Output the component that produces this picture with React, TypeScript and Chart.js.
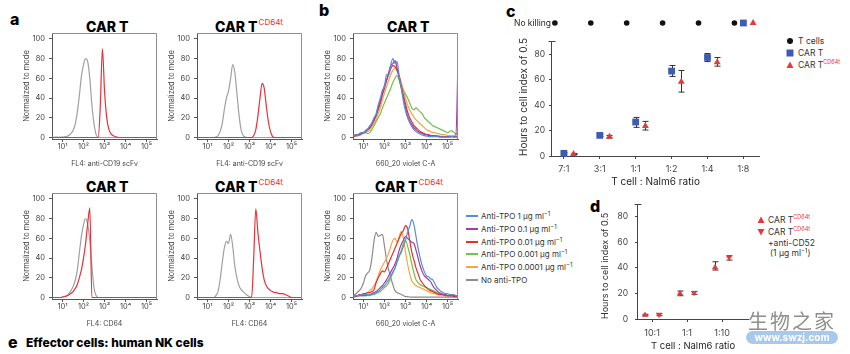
import React, { useEffect, useRef } from 'react';
import { Chart, registerables } from 'chart.js';

Chart.register(...registerables);

// ================= DATA =================
// Histogram x grid, in log10 units of fluorescence intensity
const HIST_LOG_X = [0.5, 0.6, 0.7, 0.8, 0.9, 1.0, 1.1, 1.2, 1.3, 1.4, 1.5, 1.6, 1.7, 1.8, 1.9, 2.0, 2.1, 2.2, 2.3, 2.4, 2.5, 2.6, 2.7, 2.8, 2.9, 3.0, 3.1, 3.2, 3.3, 3.4, 3.5, 3.6, 3.7, 3.8, 3.9, 4.0, 4.1, 4.2, 4.3, 4.4, 4.5, 4.6, 4.7, 4.8, 4.9, 5.0, 5.1, 5.2, 5.3, 5.4, 5.5];
const HIST_X_TICKS = [1, 2, 3, 4, 5];
const HIST_X_LABELS = ['10¹', '10²', '10³', '10⁴', '10⁵'];
const HIST_Y_TICKS = [0, 20, 40, 60, 80, 100];

// a: CAR T, anti-CD19 scFv
const A1_CTRL = [0.5, 0.3, 0.5, 0.3, 0.4, 0.5, 0.8, 1.2, 2, 4, 7, 13, 25, 42, 62, 74, 80, 77, 60, 33, 14, 3, 0.5, 0, 0, 0, 0, 0, 0, 0, 0, 0, 0, 0, 0, 0, 0, 0, 0, 0, 0, 0, 0, 0, 0, 0, 0, 0, 0, 0, 0];
const A1_STAIN = [0, 0, 0, 0, 0, 0, 0, 0, 0, 0, 0, 0, 0, 0, 0, 0, 0, 0, 0, 0, 0, 0, 0, 32, 90, 48, 21, 9, 4, 2, 1, 0.5, 0, 0, 0, 0, 0, 0, 0, 0, 0, 0, 0, 0, 0, 0, 0, 0, 0, 0, 0];
// a: CAR T CD64t, anti-CD19 scFv
const A2_CTRL = [0, 0, 0, 0, 0, 0, 0, 0, 0, 0.5, 2, 6, 14, 28, 40, 47, 60, 74, 66, 45, 23, 8, 2, 0.5, 0, 0, 0, 0, 0, 0, 0, 0, 0, 0, 0, 0, 0, 0, 0, 0, 0, 0, 0, 0, 0, 0, 0, 0, 0, 0, 0];
const A2_STAIN = [0, 0, 0, 0, 0, 0, 0, 0, 0, 0, 0, 0, 0, 0, 0, 0, 0, 0, 0, 0, 0, 0, 0, 0, 0, 0, 0, 2, 8, 22, 40, 55, 50, 32, 16, 6, 1, 0, 0, 0, 0, 0, 0, 0, 0, 0, 0, 0, 0, 0, 0];
// a: CAR T, CD64
const A3_CTRL = [0, 0, 0, 0, 0, 0.5, 1, 2, 4, 7, 11, 17, 27, 45, 62, 74, 80, 74, 58, 32, 10, 2, 0, 0, 0, 0, 0, 0, 0, 0, 0, 0, 0, 0, 0, 0, 0, 0, 0, 0, 0, 0, 0, 0, 0, 0, 0, 0, 0, 0, 0];
const A3_STAIN = [0, 0, 0, 0, 0, 0.5, 1, 1.5, 2.5, 4, 6, 9, 13, 20, 28, 40, 55, 75, 91, 0, 0, 0, 0, 0, 0, 0, 0, 0, 0, 0, 0, 0, 0, 0, 0, 0, 0, 0, 0, 0, 0, 0, 0, 0, 0, 0, 0, 0, 0, 0, 0];
// a: CAR T CD64t, CD64
const A4_CTRL = [0, 0, 0, 0, 0, 0, 0, 0, 0, 2, 6, 18, 35, 50, 57, 55, 64, 52, 32, 20, 12, 8, 6, 4, 2, 1, 0, 0, 0, 0, 0, 0, 0, 0, 0, 0, 0, 0, 0, 0, 0, 0, 0, 0, 0, 0, 0, 0, 0, 0, 0];
const A4_STAIN = [0, 0, 0, 0, 0, 0, 0, 0, 0, 0, 0, 0, 0, 0, 0, 0, 0, 0, 0, 0, 0, 0, 0, 0, 0, 0, 0, 40, 90, 66, 47, 30, 18, 12, 9, 7, 6, 5, 5, 4, 4, 4, 3, 2, 1, 0, 0, 0, 0, 0, 0];

// b: CAR T, 660_20 violet C-A, per anti-TPO dose
const BT_1 = [2, 3, 2, 4, 5, 5, 7, 9, 12, 15, 20, 24, 33, 40, 48, 52, 64, 63, 74, 80, 75, 77, 62, 50, 37, 27, 20, 15, 11, 8, 6, 4.5, 3.5, 2.5, 2, 1.5, 1, 1, 1, 1, 1, 0.5, 0.5, 0.5, 0.5, 0.5, 0.5, 1, 0.5, 0.5, 0.5];
const BT_01 = [1, 2, 3, 3, 4, 5, 6, 8, 10, 14, 18, 23, 31, 37, 45, 53, 58, 66, 73, 75, 78, 70, 60, 50, 40, 30, 22, 17, 13, 10, 8, 6, 5, 4, 3, 3, 2, 2, 2, 1.5, 1.5, 1, 1, 1, 1, 1, 1, 1, 1, 1, 78];
const BT_001 = [1, 2, 2, 3, 4, 5, 7, 8, 10, 13, 17, 22, 28, 35, 43, 50, 58, 64, 70, 73, 72, 68, 62, 52, 43, 34, 26, 20, 16, 12, 10, 8, 6, 5, 4, 3, 3, 2, 2, 2, 1.5, 1.5, 1, 1, 1, 1, 1, 1, 1, 1, 1];
const BT_0001 = [1, 2, 2, 3, 4, 5, 5, 4, 5, 8, 12, 16, 20, 24, 30, 35, 40, 45, 50, 56, 60, 63, 58, 52, 48, 44, 40, 35, 30, 28, 30, 28, 26, 24, 20, 18, 16, 14, 12, 11, 10, 9, 8, 7, 6, 5, 6, 7, 5, 4, 4];
const BT_00001 = [1, 1, 2, 2, 3, 4, 5, 6, 8, 11, 14, 18, 24, 30, 38, 45, 52, 58, 64, 68, 70, 68, 63, 56, 48, 40, 33, 28, 24, 21, 18, 16, 14, 12, 10, 8, 7, 6, 5, 5, 4, 4, 3, 3, 3, 2, 2, 2, 2, 3, 2];

// b: CAR T CD64t
const BB_1 = [1, 2, 2, 2, 3, 3, 3, 3, 3, 3, 4, 5, 6, 8, 10, 12, 15, 18, 22, 26, 30, 36, 42, 46, 52, 58, 66, 72, 79, 74, 62, 50, 40, 32, 26, 22, 21, 19, 18, 14, 10, 8, 6, 5, 4, 4, 3, 3, 3, 2, 2];
const BB_01 = [1, 1, 2, 2, 2, 2, 2, 3, 3, 4, 5, 6, 8, 10, 12, 15, 18, 22, 26, 30, 34, 40, 48, 54, 58, 62, 60, 58, 56, 55, 48, 40, 32, 26, 22, 20, 18, 16, 12, 9, 7, 5, 4, 3, 3, 2, 2, 2, 2, 2, 2];
const BB_001 = [1, 2, 2, 3, 3, 4, 4, 5, 5, 6, 8, 15, 20, 24, 27, 26, 30, 35, 40, 45, 50, 55, 60, 65, 68, 73, 70, 58, 46, 38, 30, 24, 18, 15, 12, 10, 8, 7, 6, 5, 4, 3, 3, 3, 2, 2, 2, 2, 1, 1, 1];
const BB_0001 = [1, 1, 1, 2, 2, 2, 2, 2, 2, 3, 3, 4, 5, 6, 8, 10, 12, 15, 20, 25, 30, 36, 42, 48, 55, 58, 52, 44, 34, 25, 18, 15, 13, 12, 11, 10, 9, 8, 7, 6, 5, 4, 4, 3, 3, 2, 2, 2, 2, 2, 2];
const BB_00001 = [1, 1, 2, 2, 3, 3, 4, 5, 7, 9, 12, 16, 22, 28, 32, 36, 40, 45, 52, 58, 60, 56, 62, 67, 60, 46, 34, 24, 17, 14, 12, 11, 10, 9, 8, 7, 6, 5, 4, 4, 3, 3, 3, 2, 2, 2, 2, 2, 2, 2, 1];
const BB_NONE = [2, 3, 5, 7, 10, 15, 22, 25, 28, 40, 57, 66, 62, 63, 64, 52, 38, 28, 20, 13, 7, 5, 4, 3, 2, 1, 1, 0.5, 0.5, 0.5, 0.5, 0.5, 0.5, 0.5, 0.5, 0.5, 0.5, 0.5, 0.5, 0.5, 0.5, 0.5, 0.5, 0.5, 0.5, 0.5, 0.5, 0.5, 0.5, 0.5, 0.5];

const TPO_DOSES = ['1', '0.1', '0.01', '0.001', '0.0001'];

// c: hours to cell index 0.5
const C_CATS = ['7:1', '3:1', '1:1', '1:2', '1:4', '1:8'];
const C_Y_TICKS = [0, 20, 40, 60, 80];
const C_CART = [2.1, 16.2, 26.7, 66.7, 77.4, null];
const C_CART_LOW = [1.4, 15.4, 22.5, 62.5, 74.2, null];
const C_CART_HIGH = [2.8, 17.0, 30.3, 71.1, 80.5, null];
const C_CD64T = [1.6, 15.2, 23.5, 58.3, 73.7, null];
const C_CD64T_LOW = [1.2, 14.1, 20.4, 50.2, 70.6, null];
const C_CD64T_HIGH = [2.0, 16.2, 27.2, 67.2, 77.4, null];
const C_TCELL_NO_KILL = ['7:1', '3:1', '1:1', '1:2', '1:4', '1:8'];
const C_CART_NO_KILL = ['1:8'];
const C_CD64T_NO_KILL = ['1:8'];

// d
const D_CATS = ['10:1', '1:1', '1:10'];
const D_Y_TICKS = [0, 20, 40, 60, 80];
const D_CD64T = [3.1, 20.0, 40.4];
const D_CD64T_LOW = [2.5, 18.2, 38.3];
const D_CD64T_HIGH = [3.7, 21.9, 44.8];
const D_CD52 = [3.4, 20.6, 48.2];
const D_CD52_LOW = [2.6, 19.3, 46.1];
const D_CD52_HIGH = [4.2, 21.6, 49.5];

// ================= STYLE =================
const FONT = 'Inter, "DejaVu Sans", sans-serif';
const CJK = '"Noto Sans CJK SC", sans-serif';
const INK = '#1e1e1e';
const TICK_TEXT = '#444';
const AXIS = '#555';
const RED = '#e4333c';
const CTRL_GRAY = '#a0a0a0';
const BLUE_SQ = '#3f5cb3';
const RED_TRI = '#e23b3b';
const TPO_COLORS = ['#5b8bd6', '#9c3fa6', '#e5302c', '#73c24e', '#f3a646', '#8c8c8c'];

const AREA_W = 105;
const AREA_H = 106;
const HIST_PAD_TOP = 10;
const NO_KILL_Y = 104.5;
const C_OFFSETS = { tcell: -0.25, cart: 0, cd64t: 0.27 };
const D_OFFSETS = { cd64t: -0.2, cd52: 0.2 };

// ================= PLUGINS =================
const framePlugin = {
  id: 'frame',
  afterDraw(chart: any) {
    const { ctx, chartArea: a } = chart;
    ctx.save();
    ctx.strokeStyle = '#8d8d8d';
    ctx.lineWidth = 1;
    ctx.beginPath();
    ctx.moveTo(a.left, a.top + 0.5);
    ctx.lineTo(a.right - 0.5, a.top + 0.5);
    ctx.lineTo(a.right - 0.5, a.bottom);
    ctx.stroke();
    ctx.restore();
  },
};

const errorBarPlugin = {
  id: 'errorBars',
  beforeDatasetsDraw(chart: any) {
    const { ctx } = chart;
    const xs = chart.scales.x;
    const ys = chart.scales.y;
    ctx.save();
    ctx.strokeStyle = '#333';
    ctx.lineWidth = 1;
    chart.data.datasets.forEach((ds: any) => {
      if (!ds.errLow) return;
      ds.data.forEach((pt: any, i: number) => {
        const lo = ds.errLow[i];
        const hi = ds.errHigh[i];
        if (lo == null || hi == null) return;
        const x = Math.round(xs.getPixelForValue(pt.x)) + 0.5;
        const yl = ys.getPixelForValue(lo);
        const yh = ys.getPixelForValue(hi);
        ctx.beginPath();
        ctx.moveTo(x, yl);
        ctx.lineTo(x, yh);
        ctx.moveTo(x - 3, yl);
        ctx.lineTo(x + 3, yl);
        ctx.moveTo(x - 3, yh);
        ctx.lineTo(x + 3, yh);
        ctx.stroke();
      });
    });
    ctx.restore();
  },
};

function makeYAxisLine(topValue: number) {
  return {
    id: 'yAxisLine',
    afterDraw(chart: any) {
      const { ctx } = chart;
      const ys = chart.scales.y;
      const x = Math.round(chart.chartArea.left) - 0.5;
      const y0 = ys.getPixelForValue(0);
      const yt = Math.round(ys.getPixelForValue(topValue)) + 0.5;
      ctx.save();
      ctx.strokeStyle = '#444';
      ctx.lineWidth = 1;
      ctx.beginPath();
      ctx.moveTo(x, y0);
      ctx.lineTo(x, yt);
      ctx.moveTo(x - 3, yt);
      ctx.lineTo(x + 4, yt);
      ctx.stroke();
      ctx.restore();
    },
  };
}

const noKillLabelPlugin = {
  id: 'noKillLabel',
  afterDraw(chart: any) {
    const { ctx } = chart;
    const y = chart.scales.y.getPixelForValue(NO_KILL_Y);
    ctx.save();
    ctx.font = `8.5px ${FONT}`;
    ctx.fillStyle = INK;
    ctx.textAlign = 'right';
    ctx.textBaseline = 'middle';
    ctx.fillText('No killing', chart.chartArea.left - 1, y);
    ctx.restore();
  },
};

// ================= CONFIG BUILDERS =================
function histogramConfig(series: { values: number[]; color: string }[], xTitle: string): any {
  const tickFont = { family: FONT, size: 7.5 };
  return {
    type: 'line',
    data: {
      datasets: series.map((s) => ({
        data: HIST_LOG_X.map((x, i) => ({ x, y: s.values[i] })),
        borderColor: s.color,
        borderWidth: 1.2,
        pointRadius: 0,
        cubicInterpolationMode: 'monotone',
        fill: false,
      })),
    },
    options: {
      responsive: false,
      animation: false,
      events: [],
      layout: { padding: { top: HIST_PAD_TOP, right: 4, bottom: 0, left: 0 } },
      plugins: { legend: { display: false }, tooltip: { enabled: false } },
      scales: {
        x: {
          type: 'linear',
          min: 0.5,
          max: 5.5,
          afterBuildTicks: (s: any) => {
            s.ticks = HIST_X_TICKS.map((v) => ({ value: v }));
          },
          afterFit: (s: any) => {
            s.height = 29;
          },
          ticks: {
            callback: (_v: any, i: number) => HIST_X_LABELS[i],
            font: tickFont,
            color: TICK_TEXT,
            padding: 0,
            maxRotation: 0,
            autoSkip: false,
          },
          grid: { drawOnChartArea: false, tickLength: 3, color: AXIS },
          border: { color: AXIS },
          title: { display: true, text: xTitle, font: { family: FONT, size: 7 }, color: TICK_TEXT, padding: 0 },
        },
        y: {
          type: 'linear',
          min: -1.5,
          max: 106,
          afterBuildTicks: (s: any) => {
            s.ticks = HIST_Y_TICKS.map((v) => ({ value: v }));
          },
          afterFit: (s: any) => {
            s.width = 30;
          },
          ticks: { font: tickFont, color: TICK_TEXT, padding: 4 },
          grid: { drawOnChartArea: false, tickLength: 3, color: AXIS },
          border: { color: AXIS },
          title: { display: true, text: 'Normalized to mode', font: { family: FONT, size: 7.5 }, color: TICK_TEXT, padding: 0 },
        },
      },
    },
    plugins: [framePlugin],
  };
}

function pointsFor(cats: string[], values: (number | null)[], low: (number | null)[], high: (number | null)[], offset: number, noKill: string[]) {
  const data: { x: number; y: number }[] = [];
  const errLow: (number | null)[] = [];
  const errHigh: (number | null)[] = [];
  cats.forEach((_c, i) => {
    const v = values[i];
    if (v != null) {
      data.push({ x: i + offset, y: v });
      errLow.push(low[i]);
      errHigh.push(high[i]);
    }
  });
  noKill.forEach((c) => {
    data.push({ x: cats.indexOf(c) + offset, y: NO_KILL_Y });
    errLow.push(null);
    errHigh.push(null);
  });
  return { data, errLow, errHigh };
}

function catScales(cats: string[], yTicks: number[], xMin: number, xMax: number, yMax: number, opts: any) {
  return {
    x: {
      type: 'linear',
      min: xMin,
      max: xMax,
      afterBuildTicks: (s: any) => {
        s.ticks = cats.map((_c, i) => ({ value: i }));
      },
      afterFit: (s: any) => {
        s.height = opts.xHeight;
      },
      ticks: {
        callback: (_v: any, i: number) => cats[i],
        font: { family: FONT, size: 9 },
        color: TICK_TEXT,
        padding: opts.xPad,
        maxRotation: 0,
        autoSkip: false,
      },
      grid: { drawOnChartArea: false, tickLength: 3, color: '#444' },
      border: { color: '#444' },
      title: { display: true, text: 'T cell : Nalm6 ratio', font: { family: FONT, size: opts.xTitleSize }, color: INK, padding: 0 },
    },
    y: {
      type: 'linear',
      min: 0,
      max: yMax,
      afterBuildTicks: (s: any) => {
        s.ticks = yTicks.map((v) => ({ value: v }));
      },
      afterFit: (s: any) => {
        s.width = opts.yWidth;
      },
      ticks: { font: { family: FONT, size: 8.5 }, color: TICK_TEXT, padding: opts.yPad },
      grid: { drawOnChartArea: false, tickLength: 3, color: '#444' },
      border: { display: false },
      title: {
        display: true,
        text: 'Hours to cell index of 0.5',
        align: 'start',
        font: { family: FONT, size: opts.yTitleSize },
        color: '#333',
        padding: opts.yTitlePad,
      },
    },
  };
}

function panelCConfig(): any {
  const tcell = pointsFor(C_CATS, C_CATS.map(() => null), [], [], C_OFFSETS.tcell, C_TCELL_NO_KILL);
  const cart = pointsFor(C_CATS, C_CART, C_CART_LOW, C_CART_HIGH, C_OFFSETS.cart, C_CART_NO_KILL);
  const cd64 = pointsFor(C_CATS, C_CD64T, C_CD64T_LOW, C_CD64T_HIGH, C_OFFSETS.cd64t, C_CD64T_NO_KILL);
  return {
    type: 'scatter',
    data: {
      datasets: [
        { label: 'CAR T CD64t', data: cd64.data, errLow: cd64.errLow, errHigh: cd64.errHigh, pointStyle: 'triangle', pointRadius: 4, backgroundColor: RED_TRI, borderColor: RED_TRI, borderWidth: 0, clip: false },
        { label: 'CAR T', data: cart.data, errLow: cart.errLow, errHigh: cart.errHigh, pointStyle: 'rect', pointRadius: 4.8, backgroundColor: BLUE_SQ, borderColor: BLUE_SQ, borderWidth: 0, clip: false },
        { label: 'T cells', data: tcell.data, pointStyle: 'circle', pointRadius: 2.8, backgroundColor: '#111', borderColor: '#111', borderWidth: 0, clip: false },
      ],
    },
    options: {
      responsive: false,
      animation: false,
      events: [],
      layout: { padding: { top: 10, right: 4, bottom: 0, left: 0 } },
      plugins: { legend: { display: false }, tooltip: { enabled: false } },
      scales: catScales(C_CATS, C_Y_TICKS, -0.33, 5.44, 110, { xHeight: 32, xPad: 5, xTitleSize: 10, yWidth: 52, yPad: 4, yTitleSize: 10, yTitlePad: 18 }),
    },
    plugins: [errorBarPlugin, makeYAxisLine(90), noKillLabelPlugin],
  };
}

function panelDConfig(): any {
  const a = pointsFor(D_CATS, D_CD64T, D_CD64T_LOW, D_CD64T_HIGH, D_OFFSETS.cd64t, []);
  const b = pointsFor(D_CATS, D_CD52, D_CD52_LOW, D_CD52_HIGH, D_OFFSETS.cd52, []);
  return {
    type: 'scatter',
    data: {
      datasets: [
        { label: 'CAR T CD64t', data: a.data, errLow: a.errLow, errHigh: a.errHigh, pointStyle: 'triangle', pointRadius: 3.6, backgroundColor: RED_TRI, borderColor: RED_TRI, borderWidth: 0, clip: false },
        { label: 'CAR T CD64t + anti-CD52', data: b.data, errLow: b.errLow, errHigh: b.errHigh, pointStyle: 'triangle', pointRotation: 180, pointRadius: 3.6, backgroundColor: RED_TRI, borderColor: RED_TRI, borderWidth: 0, clip: false },
      ],
    },
    options: {
      responsive: false,
      animation: false,
      events: [],
      layout: { padding: { top: 13, right: 4, bottom: 0, left: 0 } },
      plugins: { legend: { display: false }, tooltip: { enabled: false } },
      scales: catScales(D_CATS, D_Y_TICKS, -0.4, 2.74, 90, { xHeight: 33, xPad: 6, xTitleSize: 9.5, yWidth: 40, yPad: 7, yTitleSize: 9, yTitlePad: 2 }),
    },
    plugins: [errorBarPlugin, makeYAxisLine(90)],
  };
}

// ================= COMPONENTS =================
function ChartCanvas({ left, top, width, height, build }: { left: number; top: number; width: number; height: number; build: () => any }) {
  const ref = useRef<HTMLCanvasElement | null>(null);
  useEffect(() => {
    const chart = new Chart(ref.current as HTMLCanvasElement, build());
    return () => chart.destroy();
  }, []);
  return <canvas ref={ref} width={width} height={height} style={{ position: 'absolute', left, top, width, height }} />;
}

function Histogram({ areaLeft, areaTop, series, xTitle }: { areaLeft: number; areaTop: number; series: { values: number[]; color: string }[]; xTitle: string }) {
  const w = 30 + AREA_W + 4;
  const h = HIST_PAD_TOP + AREA_H + 29;
  return <ChartCanvas left={areaLeft - 30} top={areaTop - HIST_PAD_TOP} width={w} height={h} build={() => histogramConfig(series, xTitle)} />;
}

function PanelTitle({ left, top, sup }: { left: number; top: number; sup?: boolean }) {
  return (
    <div style={{ position: 'absolute', left, top, font: `800 14px ${FONT}`, lineHeight: '14px', whiteSpace: 'nowrap', color: '#000' }}>
      CAR T
      {sup ? <span style={{ position: 'relative', top: -7, fontSize: 8, fontWeight: 400, color: RED, marginLeft: 1 }}>CD64t</span> : null}
    </div>
  );
}

function Letter({ left, top, ch }: { left: number; top: number; ch: string }) {
  return <div style={{ position: 'absolute', left, top, font: `800 16px ${FONT}`, lineHeight: '16px', color: '#000' }}>{ch}</div>;
}

function CarTText({ size }: { size: number }) {
  return (
    <span>
      CAR T<span style={{ position: 'relative', top: -4, fontSize: size - 3, color: RED }}>CD64t</span>
    </span>
  );
}

export default function App() {
  const histSpecs = [
    { areaLeft: 52, areaTop: 33, series: [{ values: A1_STAIN, color: RED }, { values: A1_CTRL, color: CTRL_GRAY }], xTitle: 'FL4: anti-CD19 scFv' },
    { areaLeft: 197, areaTop: 33, series: [{ values: A2_STAIN, color: RED }, { values: A2_CTRL, color: CTRL_GRAY }], xTitle: 'FL4: anti-CD19 scFv' },
    { areaLeft: 52, areaTop: 193, series: [{ values: A3_STAIN, color: RED }, { values: A3_CTRL, color: CTRL_GRAY }], xTitle: 'FL4: CD64' },
    { areaLeft: 197, areaTop: 193, series: [{ values: A4_STAIN, color: RED }, { values: A4_CTRL, color: CTRL_GRAY }], xTitle: 'FL4: CD64' },
    {
      areaLeft: 353,
      areaTop: 33,
      series: [BT_1, BT_01, BT_001, BT_0001, BT_00001].map((v, i) => ({ values: v, color: TPO_COLORS[i] })),
      xTitle: '660_20 violet C-A',
    },
    {
      areaLeft: 353,
      areaTop: 193,
      series: [BB_1, BB_01, BB_001, BB_0001, BB_00001, BB_NONE].map((v, i) => ({ values: v, color: TPO_COLORS[i] })),
      xTitle: '660_20 violet C-A',
    },
  ];

  const legendRows = [...TPO_DOSES.map((d) => ({ dose: d as string | null })), { dose: null as string | null }];

  return (
    <div style={{ position: 'fixed', left: 0, top: 0, width: 850, height: 354, background: '#fff', overflow: 'hidden', fontFamily: FONT, color: INK }}>
      <Letter left={10} top={11} ch="a" />
      <Letter left={319} top={2} ch="b" />
      <Letter left={506} top={3} ch="c" />
      <Letter left={590} top={198} ch="d" />

      <PanelTitle left={86} top={20} />
      <PanelTitle left={215} top={20} sup />
      <PanelTitle left={86} top={180} />
      <PanelTitle left={215} top={180} sup />
      <PanelTitle left={387} top={20} />
      <PanelTitle left={375} top={180} sup />

      {histSpecs.map((s, i) => (
        <Histogram key={i} areaLeft={s.areaLeft} areaTop={s.areaTop} series={s.series} xTitle={s.xTitle} />
      ))}

      {/* legend b */}
      {legendRows.map((r, i) => (
        <div key={i} style={{ position: 'absolute', left: 466, top: 211 + i * 12.8, height: 10, display: 'flex', alignItems: 'center', font: `8px ${FONT}`, color: '#333', whiteSpace: 'nowrap' }}>
          <div style={{ width: 12, height: 2, background: TPO_COLORS[i], marginRight: 3 }} />
          {r.dose != null ? (
            <span>
              Anti-TPO {r.dose} μg ml<span style={{ position: 'relative', top: -3, fontSize: 6 }}>−1</span>
            </span>
          ) : (
            <span>No anti-TPO</span>
          )}
        </div>
      ))}

      <ChartCanvas left={500} top={6} width={264} height={182} build={panelCConfig} />
      <ChartCanvas left={598} top={191} width={154} height={161} build={panelDConfig} />

      {/* legend c */}
      <div style={{ position: 'absolute', left: 786, top: 35, font: `8.5px ${FONT}`, color: '#333', lineHeight: '12px' }}>
        <div style={{ display: 'flex', alignItems: 'center', height: 12 }}>
          <svg width="8" height="8" style={{ marginRight: 4 }}><circle cx="4" cy="4" r="3" fill="#111" /></svg>T cells
        </div>
        <div style={{ display: 'flex', alignItems: 'center', height: 12 }}>
          <svg width="8" height="8" style={{ marginRight: 4 }}><rect x="0.5" y="0.5" width="7" height="7" fill={BLUE_SQ} /></svg>CAR T
        </div>
        <div style={{ display: 'flex', alignItems: 'center', height: 12 }}>
          <svg width="8" height="8" style={{ marginRight: 4 }}><polygon points="4,0.5 7.5,7 0.5,7" fill={RED_TRI} /></svg>
          <CarTText size={8.5} />
        </div>
      </div>

      {/* legend d */}
      <div style={{ position: 'absolute', left: 757, top: 214, font: `8.5px ${FONT}`, color: '#333', lineHeight: '12px' }}>
        <div style={{ display: 'flex', alignItems: 'center', height: 12 }}>
          <svg width="8" height="8" style={{ marginRight: 3 }}><polygon points="4,0.5 7.5,7 0.5,7" fill={RED_TRI} /></svg>
          <CarTText size={8.5} />
        </div>
        <div style={{ display: 'flex', alignItems: 'center', height: 12 }}>
          <svg width="8" height="8" style={{ marginRight: 3 }}><polygon points="0.5,1 7.5,1 4,7.5" fill={RED_TRI} /></svg>
          <CarTText size={8.5} />
        </div>
        <div style={{ paddingLeft: 11, lineHeight: '10px' }}>+anti-CD52</div>
        <div style={{ paddingLeft: 13, lineHeight: '10px' }}>
          (1 μg ml<span style={{ position: 'relative', top: -3, fontSize: 6 }}>−1</span>)
        </div>
      </div>

      {/* watermark */}
      <div style={{ position: 'absolute', left: 748, top: 306, font: `20px ${CJK}`, color: '#8e8e8e', letterSpacing: 2, whiteSpace: 'nowrap' }}>生物之家</div>
      <div style={{ position: 'absolute', left: 746, top: 331, width: 92, height: 13, borderRadius: 7, background: '#a9c9ec', color: '#fff', font: `bold 10px ${FONT}`, lineHeight: '13px', textAlign: 'center' }}>www.swzj.com</div>

      {/* bottom heading */}
      <Letter left={8} top={334} ch="e" />
      <div style={{ position: 'absolute', left: 26, top: 337, font: `800 12px ${FONT}`, lineHeight: '12px', color: '#000', whiteSpace: 'nowrap' }}>Effector cells: human NK cells</div>
    </div>
  );
}
